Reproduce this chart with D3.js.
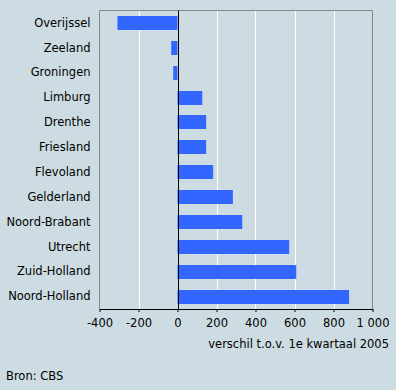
<!DOCTYPE html>
<html><head><meta charset="utf-8">
<script src="https://cdn.jsdelivr.net/npm/d3@7"></script>
<style>
html,body{margin:0;padding:0;background:#cddce2;}
svg{display:block;}
text{font-family:"DejaVu Sans",Verdana,sans-serif;font-size:11.5px;fill:#000;}
</style></head><body>
<svg id="c" width="396" height="390"></svg>
<script>
const categories = ["Overijssel","Zeeland","Groningen","Limburg","Drenthe","Friesland","Flevoland","Gelderland","Noord-Brabant","Utrecht","Zuid-Holland","Noord-Holland"];
const values = [-308,-32,-22,127,147,147,183,284,332,573,609,880];
const tickValues = [-400,-200,0,200,400,600,800,1000];
const tickLabels = ["-400","-200","0","200","400","600","800","1 000"];
const axisTitle = "verschil t.o.v. 1e kwartaal 2005";
const source = "Bron: CBS";

const FS = 11.5;
const svg = d3.select("#c");
const L = 99.5, R = 372.5, T = 10.5, B = 309;
const x = d3.scaleLinear().domain([-400,1000]).range([L,R]);
const y = d3.scaleBand().domain(categories).range([T,B]).paddingInner(0.44).paddingOuter(0.22);

// gridlines
svg.append("g").selectAll("line").data(tickValues.filter(v=>v!==-400 && v!==0 && v!==1000)).join("line")
  .attr("x1",d=>Math.round(x(d))+0.5).attr("x2",d=>Math.round(x(d))+0.5)
  .attr("y1",T).attr("y2",B).attr("stroke","#fff").attr("stroke-width",1);

// frame
svg.append("path").attr("d",`M${L},${B}V${T}H${R}V${B}`).attr("fill","none").attr("stroke","#888").attr("stroke-width",1);

// bars
svg.append("g").selectAll("rect").data(values).join("rect")
  .attr("x",(d)=>x(Math.min(0,d)))
  .attr("width",d=>Math.abs(x(d)-x(0)))
  .attr("y",(d,i)=>Math.round(y(categories[i])))
  .attr("height",Math.round(y.bandwidth()))
  .attr("fill","#3366ff");

// zero line
svg.append("line").attr("x1",Math.round(x(0))+0.5).attr("x2",Math.round(x(0))+0.5).attr("y1",T).attr("y2",B).attr("stroke","#000");

// x axis
const xAxis = d3.axisBottom(x).tickValues(tickValues).tickFormat((d,i)=>tickLabels[i]).tickSize(3).tickSizeOuter(0);
const gx = svg.append("g").attr("transform",`translate(0,${B})`).call(xAxis);
gx.select(".domain").attr("stroke","#000");
gx.selectAll(".tick line").attr("stroke","#000");
gx.selectAll("text").attr("font-size",FS).attr("fill","#000").attr("dy","0.71em").attr("y",10)
  .style("font-family","'DejaVu Sans',Verdana,sans-serif");

// y labels
const yAxis = d3.axisLeft(y).tickSize(0).tickPadding(9);
const gy = svg.append("g").attr("transform",`translate(${L},0)`).call(yAxis);
gy.select(".domain").remove();
gy.selectAll("text").attr("font-size",FS).attr("fill","#000").style("font-family","'DejaVu Sans',Verdana,sans-serif");

svg.append("text").attr("x",389).attr("y",348).attr("text-anchor","end").text(axisTitle);
svg.append("text").attr("x",6).attr("y",380).text(source);
</script>
</body></html>
